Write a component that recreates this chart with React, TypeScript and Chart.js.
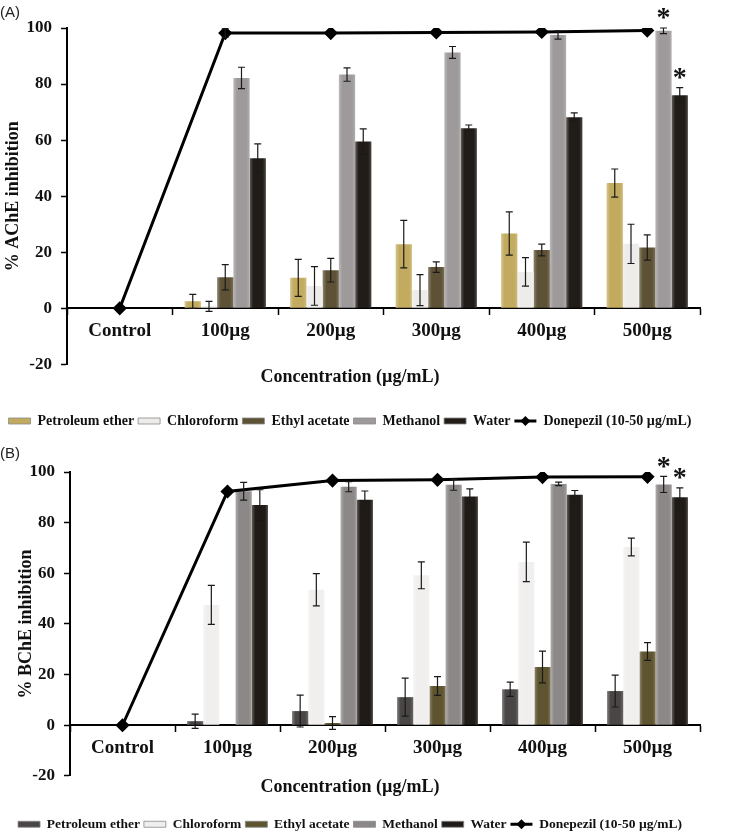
import React, { useEffect, useRef } from "react";
import { Chart, registerables } from "chart.js";

Chart.register(...registerables);

// ---------- shared labels ----------
const categories = ["Control", "100µg", "200µg", "300µg", "400µg", "500µg"];
const seriesNames = ["Petroleum ether", "Chloroform", "Ethyl acetate", "Methanol", "Water"];
const donepezilName = "Donepezil (10-50 µg/mL)";
const xTitle = "Concentration (µg/mL)";
const yMin = -20;
const yMax = 100;
const yStep = 20;

// ---------- Panel A : AChE ----------
const aPetroleum = [0, 2.5, 10.9, 22.9, 26.7, 44.7];
const aPetroleumErr = [0, 2.5, 6.6, 8.5, 7.7, 5];
const aChloroform = [0, 0.7, 8, 6.5, 13, 23];
const aChloroformErr = [0, 1.8, 6.9, 5.5, 5.1, 7];
const aEthyl = [0, 11.1, 13.6, 14.7, 20.8, 21.7];
const aEthylErr = [0, 4.5, 4.2, 1.9, 2.1, 4.5];
const aMethanol = [0, 82.2, 83.4, 91.3, 97.5, 99];
const aMethanolErr = [0, 3.8, 2.4, 2.1, 1.5, 1];
const aWater = [0, 53.5, 59.5, 64.2, 68.2, 76];
const aWaterErr = [0, 5.2, 4.5, 1.2, 1.5, 2.7];
const aDonepezil = [0, 98.2, 98.2, 98.4, 98.6, 99.1];
const aDonepezilErr = [0, 1.5, 0, 0, 0, 0];
const aMethanolSig = [false, false, false, false, false, true];
const aWaterSig = [false, false, false, false, false, true];
const aColors = ["#c2ab5f", "#eeecea", "#5e5236", "#9e9a9b", "#211c17"];

// ---------- Panel B : BChE ----------
const bPetroleum = [0, 1.6, 5.6, 11.1, 14.2, 13.5];
const bPetroleumErr = [0, 2.8, 6.3, 7.5, 2.8, 6.3];
const bChloroform = [0, 47.5, 53.5, 59.2, 64.5, 70.4];
const bChloroformErr = [0, 7.7, 6.4, 5.3, 7.8, 3.5];
const bEthyl = [0, 0, 0.9, 15.5, 23, 29.1];
const bEthylErr = [0, 0, 2.5, 3.7, 6.3, 3.5];
const bMethanol = [0, 92.4, 94.2, 95, 95.3, 95.1];
const bMethanolErr = [0, 3.5, 2, 2.2, 0.7, 3.2];
const bWater = [0, 87, 89, 90.3, 91, 90];
const bWaterErr = [0, 6, 3.5, 3, 1.7, 3.7];
const bDonepezil = [0, 92.3, 96.6, 96.9, 98, 98.1];
const bDonepezilErr = [0, 0, 0, 0, 0, 0];
const bMethanolSig = [false, false, false, false, false, true];
const bWaterSig = [false, false, false, false, false, true];
const bColors = ["#4a4646", "#f1efee", "#5f5430", "#8c8888", "#201b16"];

const SERIF = "'Liberation Serif', 'Times New Roman', serif";

function lighten(hex: string, amt: number): string {
  const n = parseInt(hex.slice(1), 16);
  const r = (n >> 16) & 255, g = (n >> 8) & 255, b = n & 255;
  const f = (c: number) => Math.round(c + (255 - c) * amt);
  return `rgb(${f(r)},${f(g)},${f(b)})`;
}

const decorPlugin = {
  id: "decor",
  beforeDatasetsDraw(chart: any) {
    const ctx = chart.ctx;
    chart.data.datasets.forEach((ds: any, di: number) => {
      if (ds.type === "line") return;
      const meta = chart.getDatasetMeta(di);
      meta.data.forEach((el: any) => {
        if (el.x == null || !el.width) return;
        const g = ctx.createLinearGradient(el.x - el.width / 2, 0, el.x + el.width / 2, 0);
        g.addColorStop(0, lighten(ds.baseColor, 0.3));
        g.addColorStop(0.22, ds.baseColor);
        g.addColorStop(0.8, ds.baseColor);
        g.addColorStop(1, lighten(ds.baseColor, 0.18));
        el.options = Object.assign({}, el.options, { backgroundColor: g });
      });
    });
  },
  afterDatasetsDraw(chart: any) {
    const ctx = chart.ctx;
    const ys = chart.scales.y;
    chart.data.datasets.forEach((ds: any, di: number) => {
      const meta = chart.getDatasetMeta(di);
      meta.data.forEach((el: any, i: number) => {
        const v = ds.data[i];
        const e = ds.errors ? ds.errors[i] : 0;
        const x = el.x;
        if (e) {
          const top = ys.getPixelForValue(v + e);
          const bot = ys.getPixelForValue(v - e);
          ctx.save();
          ctx.strokeStyle = "#1a1a1a";
          ctx.lineWidth = 1.2;
          ctx.beginPath();
          ctx.moveTo(x, top);
          ctx.lineTo(x, bot);
          ctx.moveTo(x - 3.5, top);
          ctx.lineTo(x + 3.5, top);
          ctx.moveTo(x - 3.5, bot);
          ctx.lineTo(x + 3.5, bot);
          ctx.stroke();
          ctx.restore();
        }
        if (ds.sig && ds.sig[i]) {
          const top = ys.getPixelForValue(v + (e || 0));
          ctx.save();
          ctx.fillStyle = "#111";
          ctx.font = `bold 28px ${SERIF}`;
          ctx.textAlign = "center";
          ctx.textBaseline = "middle";
          ctx.fillText("*", x, top - 9);
          ctx.restore();
        }
      });
    });
  },
  afterDraw(chart: any) {
    const legend = chart.legend;
    if (!legend || !legend.legendHitBoxes) return;
    const idx = legend.legendItems.findIndex((it: any) => it.text === donepezilName);
    if (idx < 0) return;
    const hb = legend.legendHitBoxes[idx];
    const ctx = chart.ctx;
    const bw = legend.options.labels.boxWidth;
    const cy = hb.top + hb.height / 2;
    const cx = hb.left + bw / 2;
    ctx.save();
    ctx.strokeStyle = "#000";
    ctx.fillStyle = "#000";
    ctx.lineWidth = 3;
    ctx.beginPath();
    ctx.moveTo(hb.left, cy);
    ctx.lineTo(hb.left + bw, cy);
    ctx.stroke();
    ctx.beginPath();
    ctx.moveTo(cx, cy - 5);
    ctx.lineTo(cx + 5, cy);
    ctx.lineTo(cx, cy + 5);
    ctx.lineTo(cx - 5, cy);
    ctx.closePath();
    ctx.fill();
    ctx.restore();
  },
};

type PanelProps = {
  tag: string;
  yTitle: string;
  bars: number[][];
  errs: number[][];
  sigs: (boolean[] | null)[];
  colors: string[];
  donepezil: number[];
  donepezilErr: number[];
  height: number;
  axisWidth: number;
  tagPad: { top: number; bottom: number };
  titlePad: { top: number; bottom: number };
  bottomPad: number;
  yTitlePad: number;
  legendFont: number;
};

function Panel(p: PanelProps) {
  const ref = useRef<HTMLCanvasElement>(null);
  useEffect(() => {
    if (!ref.current) return;
    const barSets = seriesNames.map((name, k) => ({
      type: "bar" as const,
      label: name,
      data: p.bars[k],
      errors: p.errs[k],
      sig: p.sigs[k],
      baseColor: p.colors[k],
      backgroundColor: p.colors[k],
      borderWidth: 0,
      order: 1,
      categoryPercentage: 0.77,
      barPercentage: 1,
    }));
    const lineSet = {
      type: "line" as const,
      label: donepezilName,
      data: p.donepezil,
      errors: p.donepezilErr,
      borderColor: "#000",
      backgroundColor: "#000",
      borderWidth: 3,
      pointStyle: "rectRot",
      pointRadius: 5,
      pointBackgroundColor: "#000",
      pointBorderColor: "#000",
      tension: 0,
      order: 0,
    };
    const chart = new Chart(ref.current, {
      type: "bar",
      data: { labels: categories, datasets: [...barSets, lineSet] as any },
      plugins: [decorPlugin],
      options: {
        responsive: false,
        animation: false,
        devicePixelRatio: 1,
        layout: { padding: { left: 0, right: 30, top: 0, bottom: p.bottomPad } },
        scales: {
          x: {
            position: { y: 0 } as any,
            grid: {
              display: true,
              drawOnChartArea: false,
              drawTicks: true,
              tickLength: 6,
              tickWidth: 1.5,
              tickColor: "#000",
              offset: true,
            },
            border: { display: true, color: "#000", width: 2 },
            ticks: {
              color: "#111",
              padding: 5,
              font: { family: SERIF, size: 19, weight: "bold" },
              maxRotation: 0,
            },
          },
          y: {
            min: yMin,
            max: yMax,
            afterFit: (s: any) => {
              s.width = p.axisWidth;
            },
            grid: {
              display: true,
              drawOnChartArea: false,
              drawTicks: true,
              tickLength: 6,
              tickWidth: 1.5,
              tickColor: "#000",
            },
            border: { display: true, color: "#000", width: 2 },
            ticks: {
              stepSize: yStep,
              color: "#111",
              padding: 9,
              font: { family: SERIF, size: 17, weight: "bold" },
            },
            title: {
              display: true,
              text: p.yTitle,
              color: "#111",
              padding: { top: p.yTitlePad, bottom: 0 },
              font: { family: SERIF, size: 18, weight: "bold" },
            },
          },
        },
        plugins: {
          subtitle: {
            display: true,
            text: p.tag,
            align: "start",
            position: "top",
            color: "#222",
            font: { family: "'Liberation Sans', Arial, sans-serif", size: 15, weight: "normal" },
            padding: p.tagPad,
          },
          title: {
            display: true,
            text: xTitle,
            position: "bottom",
            weight: 500,
            color: "#111",
            font: { family: SERIF, size: 18, weight: "bold" },
            padding: p.titlePad,
          } as any,
          legend: {
            display: true,
            position: "bottom",
            labels: {
              boxWidth: 22,
              boxHeight: 6,
              padding: 4,
              color: "#111",
              font: { family: SERIF, size: p.legendFont, weight: "bold" },
              sort: (a: any, b: any) => a.datasetIndex - b.datasetIndex,
              generateLabels: (chart: any) => {
                const items = Chart.defaults.plugins.legend.labels.generateLabels(chart);
                return items.map((it: any) => {
                  if (it.text === donepezilName) {
                    return { ...it, fillStyle: "rgba(0,0,0,0)", strokeStyle: "rgba(0,0,0,0)", lineWidth: 0 };
                  }
                  return { ...it, lineWidth: 0.8, strokeStyle: "#888" };
                });
              },
            },
          },
          tooltip: { enabled: false },
        },
      },
    });
    chart.update();
    return () => chart.destroy();
  }, []);
  return <canvas ref={ref} width={730} height={p.height} style={{ display: "block" }} />;
}

export default function App() {
  return (
    <div style={{ position: "absolute", left: 0, top: 0, width: 730, height: 834, background: "#fff" }}>
      <Panel
        tag="(A)"
        yTitle="% AChE inhibition"
        bars={[aPetroleum, aChloroform, aEthyl, aMethanol, aWater]}
        errs={[aPetroleumErr, aChloroformErr, aEthylErr, aMethanolErr, aWaterErr]}
        sigs={[null, null, null, aMethanolSig, aWaterSig]}
        colors={aColors}
        donepezil={aDonepezil}
        donepezilErr={aDonepezilErr}
        height={437}
        axisWidth={67}
        tagPad={{ top: 4, bottom: 6 }}
        titlePad={{ top: 2, bottom: 22 }}
        bottomPad={-1}
        yTitlePad={3}
        legendFont={14}
      />
      <Panel
        tag="(B)"
        yTitle="% BChE inhibition"
        bars={[bPetroleum, bChloroform, bEthyl, bMethanol, bWater]}
        errs={[bPetroleumErr, bChloroformErr, bEthylErr, bMethanolErr, bWaterErr]}
        sigs={[null, null, null, bMethanolSig, bWaterSig]}
        colors={bColors}
        donepezil={bDonepezil}
        donepezilErr={bDonepezilErr}
        height={397}
        axisWidth={70}
        tagPad={{ top: 8, bottom: 9 }}
        titlePad={{ top: 1, bottom: 15 }}
        bottomPad={-7}
        yTitlePad={16}
        legendFont={13.5}
      />
    </div>
  );
}
